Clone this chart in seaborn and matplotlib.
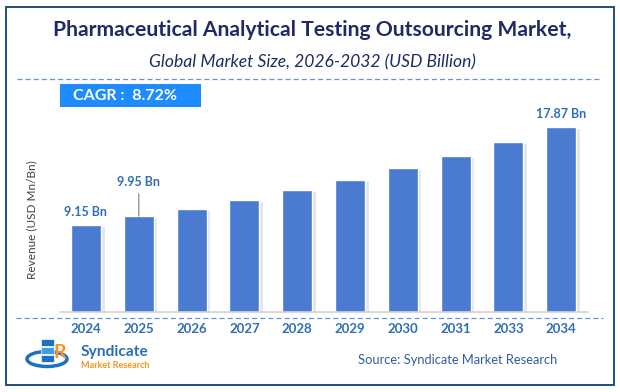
import numpy as np
import matplotlib
matplotlib.use("Agg")
import matplotlib.pyplot as plt
import matplotlib.patheffects as pe
from matplotlib.patches import Rectangle, Ellipse
from matplotlib.lines import Line2D
import seaborn as sns

# data
years = ["2024", "2025", "2026", "2027", "2028", "2029", "2030", "2031", "2033", "2034"]
revenue = [9.15, 9.95, 10.57, 11.37, 12.26, 13.15, 14.22, 15.29, 16.53, 17.87]
labelled = {0: "9.15 Bn", 1: "9.95 Bn", 9: "17.87 Bn"}

title = "Pharmaceutical Analytical Testing Outsourcing Market,"
subtitle = "Global Market Size, 2026-2032 (USD Billion)"
cagr = "CAGR :  8.72%"

sns.set_theme(style="white")
plt.rcParams["font.family"] = ["Lato", "DejaVu Sans"]

W, H = 620, 392
fig = plt.figure(figsize=(W / 100, H / 100), dpi=100)
fig.patch.set_facecolor("white")


def fx(x):
    return x / W


def fy(y):
    return 1 - y / H


navy = "#1f2b66"
tick_blue = "#2f6db9"
bar_blue = "#4a7bd1"

# outer frame
fig.add_artist(Rectangle((fx(6), fy(385)), fx(608), (385 - 7) / H, fill=False,
                         edgecolor="#1f4e79", linewidth=1.4, transform=fig.transFigure))

fig.text(fx(312), fy(30), title, ha="center", va="center", fontsize=15.2,
         fontweight="bold", color=navy)
fig.text(fx(312), fy(62), subtitle, ha="center", va="center", fontsize=12.6,
         style="italic", color=navy)

# dashed separators
fig.add_artist(Line2D([fx(17), fx(602)], [fy(79), fy(79)], color="#6a90d2",
                      linewidth=0.9, linestyle=(0, (4, 2.5)), transform=fig.transFigure))
fig.add_artist(Line2D([fx(16), fx(603)], [fy(318), fy(318)], color="#6a90d2",
                      linewidth=0.9, linestyle=(0, (4, 2.5)), transform=fig.transFigure))

# CAGR badge
fig.add_artist(Rectangle((fx(60), fy(107)), fx(141), 23 / H, facecolor="#1e8bff",
                         edgecolor="none", transform=fig.transFigure))
fig.text(fx(73), fy(96), cagr, ha="left", va="center", fontsize=11.5,
         fontweight="bold", color="white")

# bar chart
x0, x1 = 59.6, 587.6
ax = fig.add_axes([fx(x0), fy(312), fx(x1 - x0), (312 - 100) / H])
sns.barplot(x=years, y=revenue, color=bar_blue, width=0.57, saturation=1, ax=ax)
for p in ax.patches:
    p.set_path_effects([pe.SimplePatchShadow(offset=(2.5, -1.5), shadow_rgbFace="#8a8a8a", alpha=0.22),
                        pe.Normal()])
ax.set_xlim(-0.5, 9.5)
ax.set_ylim(1.41, 20.27)
ax.set_yticks([])
ax.set_xlabel("")
ax.set_ylabel("")
for s in ["top", "right", "left"]:
    ax.spines[s].set_visible(False)
ax.spines["bottom"].set_color("#d4d4d4")
ax.spines["bottom"].set_linewidth(1.2)
ax.tick_params(axis="x", length=0, pad=8, labelsize=9.5, labelcolor=tick_blue)
for t in ax.get_xticklabels():
    t.set_fontweight("bold")
ax.patch.set_alpha(0)

for i, lab in labelled.items():
    if i == 1:
        ax.annotate(lab, xy=(i, revenue[i]), xytext=(0, 34), textcoords="offset pixels",
                    ha="center", va="center", fontsize=9, fontweight="bold", color=tick_blue,
                    arrowprops=dict(arrowstyle="-", color="#8c8c8c", lw=0.9, shrinkA=2, shrinkB=0))
    else:
        ax.annotate(lab, xy=(i, revenue[i]), xytext=(0, 13), textcoords="offset pixels",
                    ha="center", va="center", fontsize=9, fontweight="bold", color=tick_blue)

fig.text(fx(32), fy(220), "Revenue (USD Mn/Bn)", rotation=90, ha="center", va="center",
         fontsize=8.5, color="#404040")

# logo
fig.add_artist(Ellipse((fx(47), fy(359)), fx(40), 15 / H, fill=False, edgecolor="#1f6fc5",
                       linewidth=2.5, transform=fig.transFigure))
for k, c in enumerate(["#1f6fc5", "#3fa0e8", "#1f6fc5"]):
    fig.add_artist(Rectangle((fx(41), fy(362 - k * 8)), fx(13), 7 / H, facecolor=c,
                             edgecolor="white", linewidth=0.5, transform=fig.transFigure))
fig.text(fx(60), fy(352), "R", ha="center", va="center", fontsize=14, fontweight="bold",
         color="#f7941d")
fig.text(fx(81), fy(352), "Syndicate", ha="left", va="center", fontsize=11.2,
         fontweight="bold", color="#2a6ebb")
fig.text(fx(81), fy(365), "Market Research", ha="left", va="center", fontsize=6.5,
         fontweight="bold", color="#f7941d")

fig.text(fx(458), fy(360), "Source: Syndicate Market Research", ha="center", va="center",
         fontsize=9.3, color="#2f5f9f")

fig.savefig("out.png", dpi=100)
